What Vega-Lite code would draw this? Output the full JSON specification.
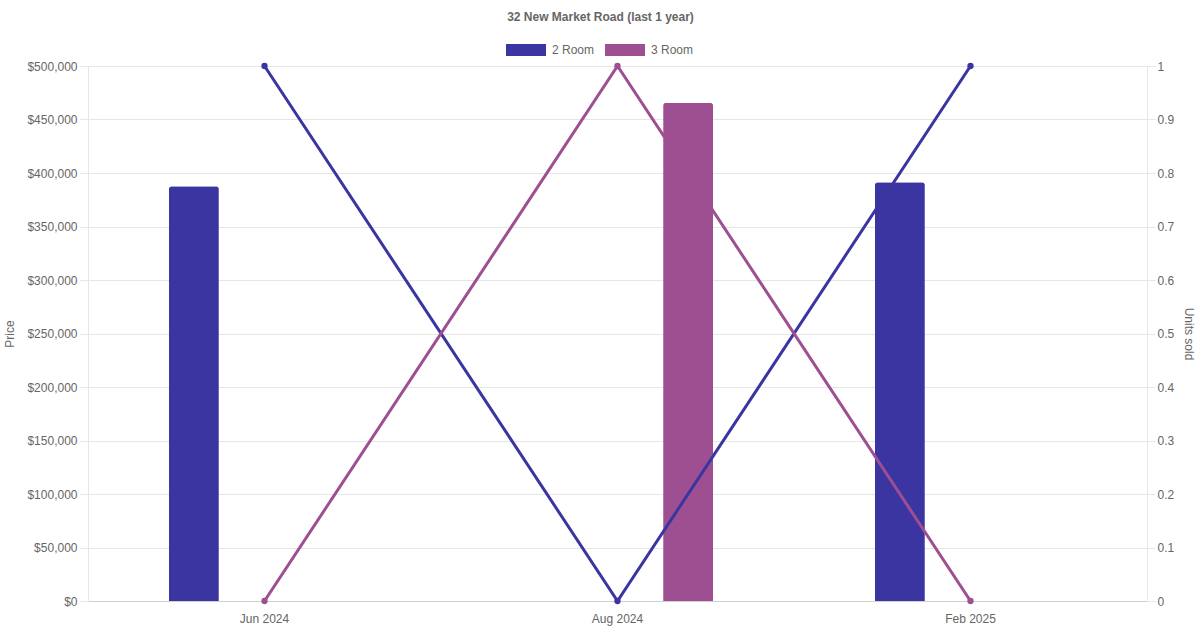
{
  "$schema": "https://vega.github.io/schema/vega-lite/v6.json",
  "width": 1059,
  "height": 535,
  "autosize": "none",
  "padding": {"left": 88, "top": 66, "right": 53, "bottom": 29},
  "background": "white",
  "title": {
    "text": "32 New Market Road (last 1 year)",
    "anchor": "middle",
    "frame": "group",
    "dx": -17,
    "offset": 6,
    "font": "Liberation Sans",
    "fontSize": 12,
    "fontWeight": "bold",
    "color": "#666666"
  },
  "data": {
    "values": [
      {"month": "Jun 2024", "room": "2 Room", "price": 387600, "units": 1},
      {"month": "Jun 2024", "room": "3 Room", "price": null, "units": 0},
      {"month": "Aug 2024", "room": "2 Room", "price": null, "units": 0},
      {"month": "Aug 2024", "room": "3 Room", "price": 465700, "units": 1},
      {"month": "Feb 2025", "room": "2 Room", "price": 391300, "units": 1},
      {"month": "Feb 2025", "room": "3 Room", "price": null, "units": 0}
    ]
  },
  "encoding": {
    "x": {
      "field": "month",
      "type": "nominal",
      "sort": ["Jun 2024", "Aug 2024", "Feb 2025"],
      "scale": {"paddingInner": 0, "paddingOuter": 0},
      "axis": {
        "title": null,
        "labelAngle": 0,
        "ticks": false,
        "labelPadding": 12,
        "grid": false,
        "domainColor": "#d0d0d0"
      }
    },
    "color": {
      "field": "room",
      "type": "nominal",
      "scale": {"domain": ["2 Room", "3 Room"], "range": ["#3a35a0", "#9e4f92"]},
      "legend": {
        "title": null,
        "orient": "none",
        "direction": "horizontal",
        "legendX": 418,
        "legendY": -36,
        "symbolType": "M-1,-0.3H1V0.3H-1Z",
        "symbolSize": 1600,
        "symbolStrokeWidth": 0,
        "symbolOpacity": 1,
        "labelOffset": 6,
        "columnPadding": 10,
        "labelFontSize": 12,
        "labelColor": "#666666",
        "labelFont": "Liberation Sans"
      }
    }
  },
  "layer": [
    {
      "transform": [{"filter": "datum.price != null"}],
      "mark": {"type": "bar", "width": 50, "cornerRadiusTopLeft": 3, "cornerRadiusTopRight": 3},
      "encoding": {
        "xOffset": {
          "field": "room",
          "type": "nominal",
          "scale": {"domain": ["2 Room", "3 Room"], "paddingInner": 0, "paddingOuter": 0.25}
        },
        "y": {
          "field": "price",
          "type": "quantitative",
          "scale": {"domain": [0, 500000], "nice": false},
          "axis": {
            "title": "Price",
            "orient": "left",
            "format": "$,.0f",
            "values": [0, 50000, 100000, 150000, 200000, 250000, 300000, 350000, 400000, 450000, 500000],
            "labelOverlap": false,
            "grid": true,
            "gridColor": "#e6e6e6",
            "tickColor": "#e6e6e6",
            "tickSize": 8,
            "labelPadding": 3,
            "domainColor": "#e6e6e6",
            "titlePadding": 10
          }
        }
      }
    },
    {
      "mark": {"type": "line", "strokeWidth": 3, "point": {"size": 40, "filled": true, "opacity": 1}},
      "encoding": {
        "y": {
          "field": "units",
          "type": "quantitative",
          "scale": {"domain": [0, 1], "nice": false},
          "axis": {
            "title": "Units sold",
            "orient": "right",
            "format": ".1~f",
            "values": [0, 0.1, 0.2, 0.3, 0.4, 0.5, 0.6, 0.7, 0.8, 0.9, 1],
            "labelOverlap": false,
            "grid": false,
            "tickColor": "#e6e6e6",
            "tickSize": 8,
            "labelPadding": 2,
            "domainColor": "#e6e6e6",
            "titlePadding": 8
          }
        }
      }
    }
  ],
  "resolve": {"scale": {"y": "independent"}},
  "config": {
    "view": {"stroke": null},
    "axis": {
      "labelFont": "Liberation Sans",
      "labelFontSize": 12,
      "labelColor": "#666666",
      "titleFont": "Liberation Sans",
      "titleFontSize": 12,
      "titleFontWeight": "normal",
      "titleColor": "#666666"
    }
  }
}
